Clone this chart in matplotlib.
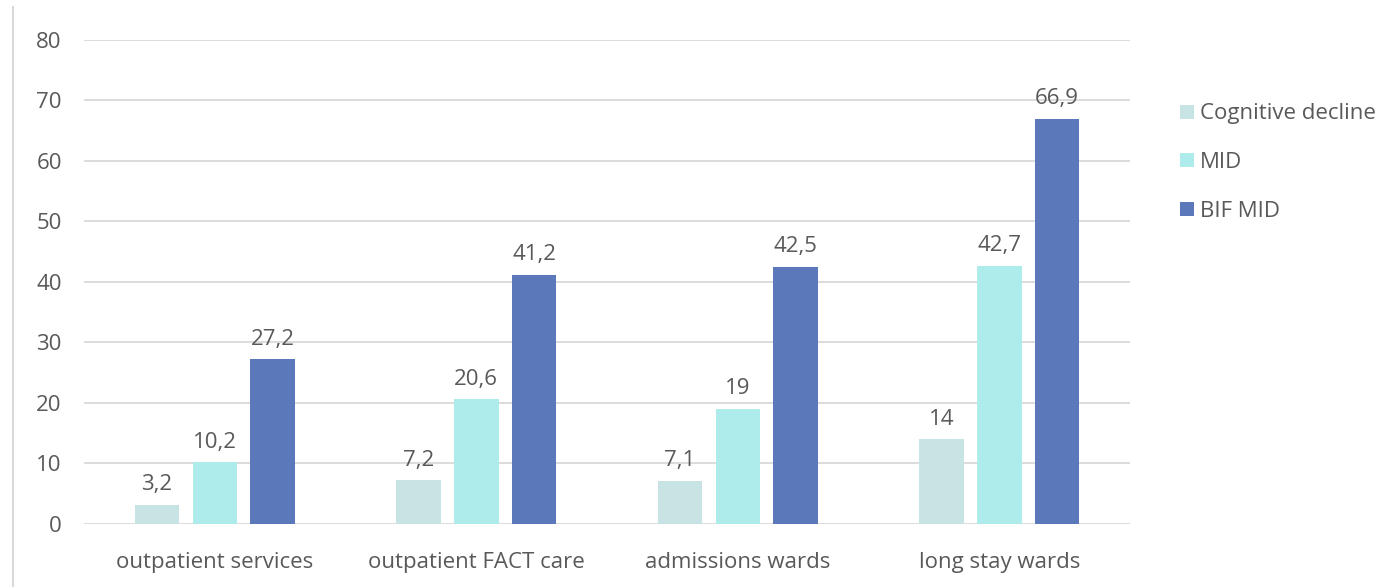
import matplotlib
matplotlib.use("Agg")
import matplotlib.pyplot as plt
from matplotlib.lines import Line2D
import numpy as np

categories = ["outpatient services", "outpatient FACT care", "admissions wards", "long stay wards"]
series_names = ["Cognitive decline", "MID", "BIF MID"]
cognitive = [3.2, 7.2, 7.1, 14]
mid = [10.2, 20.6, 19, 42.7]
bif_mid = [27.2, 41.2, 42.5, 66.9]
colors = ["#C8E3E4", "#AEEBEB", "#5B78BA"]

text_color = "#595959"
plt.rcParams['font.family'] = ['Open Sans', 'DejaVu Sans']
fs = 16

fig = plt.figure(figsize=(13.93, 5.87), dpi=100)
ax = fig.add_axes([0.0603, 0.1073, 0.751, 0.825])

x = np.arange(len(categories))
width = 0.17
step = 0.221

for i, (name, vals) in enumerate(zip(series_names, [cognitive, mid, bif_mid])):
    pos = x + (i - 1) * step
    ax.bar(pos, vals, width, color=colors[i], label=name, zorder=3)
    for p, v in zip(pos, vals):
        lbl = f"{v:g}".replace(".", ",")
        ax.text(p, v + 1.6, lbl, ha="center", va="bottom", fontsize=fs, color=text_color)

ax.set_xlim(-0.5, len(categories) - 0.5)
ax.set_ylim(0, 80)
ax.set_yticks(range(0, 81, 10))
ax.set_xticks(x)
ax.set_xticklabels(categories)
ax.yaxis.grid(True, color="#D9D9D9", linewidth=1.3, zorder=0)
ax.tick_params(axis="both", length=0, labelsize=fs, labelcolor=text_color)
ax.tick_params(axis="y", pad=16)
ax.tick_params(axis="x", pad=20)
for s in ax.spines.values():
    s.set_visible(False)

leg = ax.legend(loc="center left", bbox_to_anchor=(1.048, 0.746), frameon=False,
                fontsize=fs, handlelength=0.6, handleheight=0.6, handletextpad=0.3,
                labelspacing=1.25, borderaxespad=0, borderpad=0)
for t in leg.get_texts():
    t.set_color(text_color)

fig.add_artist(Line2D([13 / 1393, 13 / 1393], [0, 1 - 7 / 587], color="#D9D9D9", linewidth=1.5))

fig.savefig("out.png", dpi=100)
